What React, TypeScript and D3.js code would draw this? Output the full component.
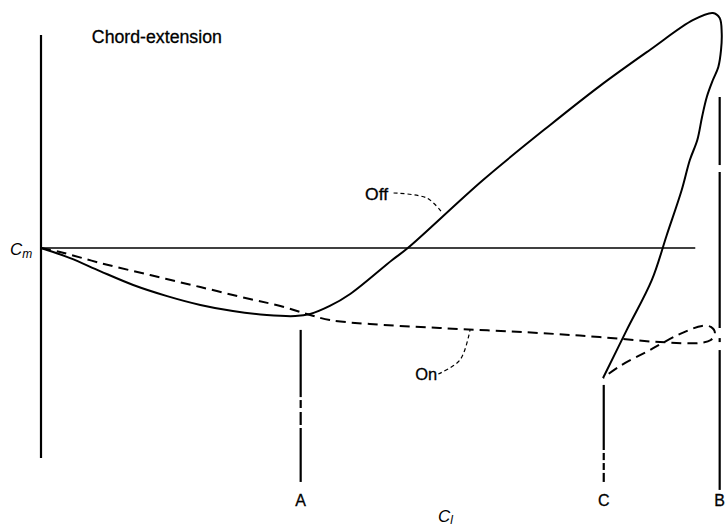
import React from 'react';
import * as d3 from 'd3';

// Chord-extension pitching-moment sketch (C_m vs C_l)
// x: 0 = C_m axis, 100 = marker B ; y: 0 = C_m reference line

const offX = [0, 4.3, 8.7, 13.6, 18.6, 23.5, 28.3, 33.3, 37.5, 39.7, 42.6, 45.6, 51.8, 54.1, 65.2, 75.1, 82.4, 89.8, 96.2, 99.1, 100.1, 100.4, 100.3, 99.9, 99.1, 98.2, 97.5, 96.8, 95.7, 94.5, 92.3, 90.1, 86.4, 82.9];
const offY = [0, -4.8, -11.0, -17.6, -22.9, -27.1, -30.0, -31.9, -32.4, -31.4, -27.6, -21.9, -5.7, 0, 32.4, 58.6, 77.1, 94.3, 108.6, 111.9, 109.5, 102.4, 94.3, 86.2, 80.0, 71.9, 62.4, 51.4, 41.9, 27.6, 6.2, -15.2, -39.0, -61.9];

const onX = [0, 2.8, 8.7, 16.1, 23.5, 30.8, 35.3, 39.2, 42.6, 48.5, 58.8, 73.6, 82.4, 91.3, 97.2, 98.8, 99.4, 98.8, 97.5, 94.2, 89.8, 85.4, 82.9];
const onY = [0, -1.9, -7.1, -12.9, -18.6, -24.3, -27.6, -31.4, -34.3, -36.2, -38.1, -40.5, -42.4, -44.8, -45.2, -43.8, -40.5, -37.6, -37.1, -41.0, -48.6, -56.2, -61.9];

const markerNames = ['A', 'C', 'B'];
const markerX = [38.3, 83.0, 100.1];
const markerSegments = [
  [[-39.0, -71.0], [-72.4, -76.2], [-78.1, -84.3], [-85.7, -111.4]],
  [[-65.2, -96.2], [-97.6, -101.0], [-102.4, -105.7], [-107.1, -111.4]],
  [[71.9, 39.5], [36.2, -38.1], [-42.9, -44.8], [-48.6, -115.2]],
];

const offLeaderX = [52.0, 56.9, 59.1];
const offLeaderY = [26.2, 23.8, 17.1];
const onLeaderX = [58.6, 61.8, 63.3];
const onLeaderY = [-60.0, -53.3, -38.6];

const W = 725;
const H = 531;

const x = d3.scaleLinear().domain([0, 100]).range([41, 719]);
const y = d3.scaleLinear().domain([-100, 100]).range([458, 38]);

const zip = (xs: number[], ys: number[]) => xs.map((v, i) => [v, ys[i]] as [number, number]);

const smooth = d3.line<[number, number]>()
  .x(d => x(d[0]))
  .y(d => y(d[1]))
  .curve(d3.curveCatmullRom.alpha(0.5));

const font = '"Liberation Sans", Arial, sans-serif';

export default function App() {
  return (
    <svg width={W} height={H} style={{ position: 'absolute', left: 0, top: 0, background: '#fff' }}>
      {/* C_m axis */}
      <line x1={x(0)} x2={x(0)} y1={y(101.4)} y2={y(-100)} stroke="#000" strokeWidth={2.2} />
      {/* zero line */}
      <line x1={x(0)} x2={x(96.5)} y1={y(0)} y2={y(0)} stroke="#000" strokeWidth={1.5} />

      {/* curves */}
      <path d={smooth(zip(offX, offY)) || ''} fill="none" stroke="#000" strokeWidth={2} />
      <path d={smooth(zip(onX, onY)) || ''} fill="none" stroke="#000" strokeWidth={2} strokeDasharray="10,6" />

      {/* leaders */}
      <path d={smooth(zip(offLeaderX, offLeaderY)) || ''} fill="none" stroke="#000" strokeWidth={1.2} strokeDasharray="4,3" />
      <path d={smooth(zip(onLeaderX, onLeaderY)) || ''} fill="none" stroke="#000" strokeWidth={1.2} strokeDasharray="4,3" />

      {/* markers A, C, B */}
      {markerNames.map((name, i) => (
        <g key={name}>
          {markerSegments[i].map((s, j) => (
            <line key={j} x1={x(markerX[i])} x2={x(markerX[i])} y1={y(s[0])} y2={y(s[1])} stroke="#000" strokeWidth={2.2} />
          ))}
          <text x={x(markerX[i])} y={y(-122.9)} textAnchor="middle" fontFamily={font} fontSize={16} stroke="#000" strokeWidth={0.3}>{name}</text>
        </g>
      ))}

      {/* labels */}
      <text x={x(7.5)} y={y(97.6)} fontFamily={font} fontSize={18} textLength={130} lengthAdjust="spacingAndGlyphs" stroke="#000" strokeWidth={0.3}>Chord-extension</text>
      <text x={x(47.8)} y={y(22.9)} fontFamily={font} fontSize={16} textLength={23} lengthAdjust="spacingAndGlyphs" stroke="#000" strokeWidth={0.3}>Off</text>
      <text x={x(55.2)} y={y(-62.9)} fontFamily={font} fontSize={17} textLength={22} lengthAdjust="spacingAndGlyphs" stroke="#000" strokeWidth={0.3}>On</text>

      <text x={10} y={y(-3.3)} fontFamily={font} fontSize={17} fontStyle="italic">
        C<tspan fontSize={12} dy={3}>m</tspan>
      </text>
      <text x={438} y={y(-130.5)} fontFamily={font} fontSize={17} fontStyle="italic">
        C<tspan fontSize={12} dy={2}>l</tspan>
      </text>
    </svg>
  );
}
